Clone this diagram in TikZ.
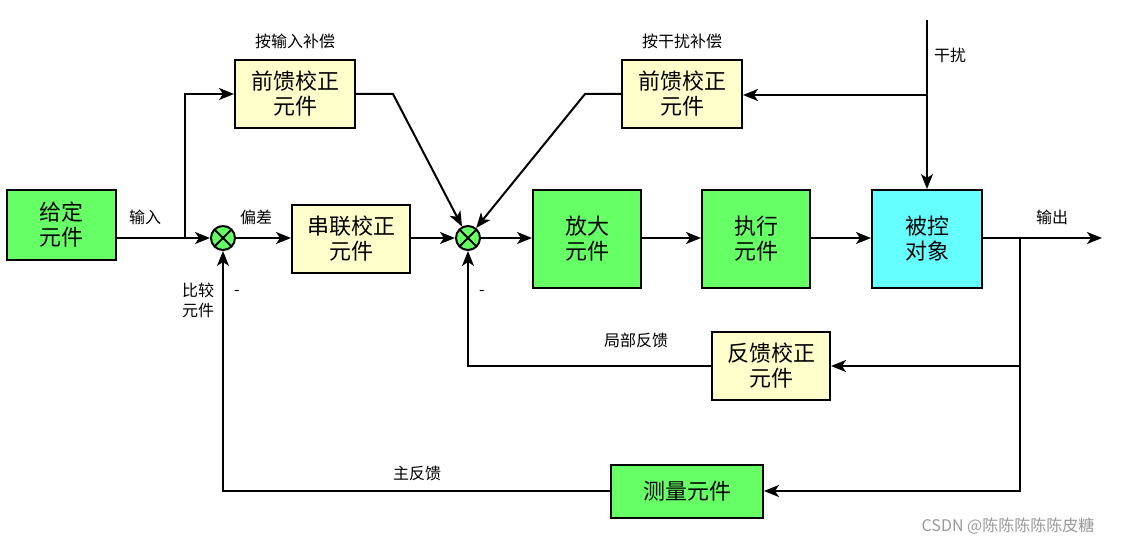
\documentclass[tikz,border=0pt]{standalone}
\usepackage{fontspec}
\setmainfont{Noto Sans CJK SC}
\usetikzlibrary{arrows.meta}
\definecolor{gr}{HTML}{66FF66}
\definecolor{cy}{HTML}{66FFFF}
\definecolor{ye}{HTML}{FFFFCC}
\begin{document}
\begin{tikzpicture}[x=1pt,y=-1pt,
  box/.style={draw,line width=2pt,minimum width=#1,inner sep=0pt,align=center,font=\fontsize{22}{25}\selectfont},
  box/.default=110pt,
  lbl/.style={font=\fontsize{16}{18}\selectfont},
  ln/.style={line width=2pt},
  ar/.style={ln,-{Stealth[length=15pt,width=12pt,inset=4pt]}},
  sum/.style={circle,draw,line width=2pt,fill=gr,minimum size=24pt,inner sep=0pt,path picture={\draw[line width=2pt] (path picture bounding box.north west)--(path picture bounding box.south east) (path picture bounding box.north east)--(path picture bounding box.south west);}}]
\useasboundingbox (0,0) rectangle (1125,545);
\node[box=109pt,fill=gr,minimum height=70pt] (gd) at (61.5,225) {给定\\元件};
\node[sum] (s1) at (223,238) {};
\node[box=120pt,fill=ye,minimum height=68pt] (ff1) at (295,94) {前馈校正\\元件};
\node[box=118pt,fill=ye,minimum height=68pt] (cl) at (351,239) {串联校正\\元件};
\node[sum] (s2) at (468,238) {};
\node[box=108pt,fill=gr,minimum height=98pt] (fd) at (587,239) {放大\\元件};
\node[box=108pt,fill=gr,minimum height=98pt] (zx) at (756,239) {执行\\元件};
\node[box=110pt,fill=cy,minimum height=98pt] (bk) at (927,239) {被控\\对象};
\node[box=120pt,fill=ye,minimum height=68pt] (ff2) at (682,94) {前馈校正\\元件};
\node[box=118pt,fill=ye,minimum height=68pt] (fk) at (771,366) {反馈校正\\元件};
\node[box=152pt,fill=gr,minimum height=53pt] (cc) at (687,491) {测量元件};
\coordinate (out) at (1102,238);
\coordinate (b1) at (185,238);
\coordinate (b2) at (1020,238);
\coordinate (b3) at (1020,366);
\coordinate (dtop) at (927,20);
\coordinate (db) at (927,95);
\draw[ar] (gd.east|-s1) -- (s1);
\draw[ar] (b1) |- (ff1.west);
\draw[ar] (s1) -- (cl.west|-s1);
\draw[ar] (cl.east|-s2) -- (s2);
\draw[ar] (ff1.east) -- (393,94) -- (s2);
\draw[ar] (ff2.west) -- (585,94) -- (s2);
\draw[ar] (s2) -- (fd.west|-s2);
\draw[ar] (fd.east|-s2) -- (zx.west|-s2);
\draw[ar] (zx.east|-s2) -- (bk.west|-s2);
\draw[ar] (bk.east|-s2) -- (out);
\draw[ar] (dtop) -- (bk.north);
\draw[ar] (db) -- (ff2.east|-db);
\draw[ar] (b2) -- (b3) -- (fk.east);
\draw[ar] (fk.west) -| (s2);
\draw[ar] (b3) |- (cc.east);
\draw[ar] (cc.west) -| (s1);
\node[lbl] at (145,217) {输入};
\node[lbl] at (256,217) {偏差};
\node[lbl] at (1052,217) {输出};
\node[lbl] at (295,41) {按输入补偿};
\node[lbl] at (682,41) {按干扰补偿};
\node[lbl] at (950,55) {干扰};
\node[lbl] at (636,340) {局部反馈};
\node[lbl] at (417,473) {主反馈};
\node[lbl,align=center,font=\fontsize{16}{20}\selectfont] at (198,300) {比较\\元件};
\node[lbl] at (237,293) {-};
\node[lbl] at (482,293) {-};
\node[font=\fontsize{16}{18}\selectfont,text=gray!80] at (1008,526) {CSDN @陈陈陈陈陈皮糖};
\end{tikzpicture}
\end{document}
